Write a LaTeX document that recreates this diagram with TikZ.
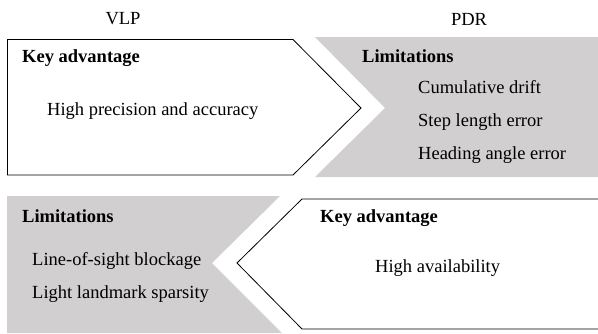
\documentclass[tikz,border=0pt]{standalone}
\usepackage{fontspec}
\setmainfont{Liberation Serif}
\usetikzlibrary{positioning}
\definecolor{limgray}{RGB}{209,207,208}

\begin{document}
\begin{tikzpicture}[x=1pt,y=-1pt,
    every node/.style={font=\fontsize{18.5}{22}\selectfont, inner sep=0pt},
    title/.style={anchor=base},
    head/.style={anchor=base west, font=\fontsize{18.5}{22}\selectfont\bfseries},
    item/.style={anchor=base west},
    panel/.style={draw=black, line width=0.8pt, fill=white},
    shade/.style={fill=limgray}]
\useasboundingbox (0,0) rectangle (598,333);

% top row: VLP advantage, PDR limitations
\draw[panel] (7.5,39.5) -- (293,39.5) -- (361,108) -- (293,175) -- (7.5,175) -- cycle;
\fill[shade] (315,37) -- (598,37) -- (598,177) -- (315,177) -- (385,108) -- cycle;

% bottom row: VLP limitations, PDR advantage
\fill[shade] (7,196) -- (280,196) -- (212,263) -- (282,333) -- (7,333) -- cycle;
\draw[panel] (598,199) -- (302,199) -- (237,263) -- (302,329) -- (598,329);

\node[title] (vlp) at (123,24) {VLP};
\node[title] (pdr) at (469,25) {PDR};

\node[head] (advvlp) at (22,62) {Key advantage};
\node[item] (prec) at (47,115) {High precision and accuracy};

\node[head] (limpdr) at (362,62) {Limitations};
\node[item] (drift) at (418,93) {Cumulative drift};
\node[item] (steplen) at (418,126) {Step length error};
\node[item] (heading) at (418,159) {Heading angle error};

\node[head] (limvlp) at (22,222) {Limitations};
\node[item] (los) at (32,265) {Line-of-sight blockage};
\node[item] (sparse) at (32,298) {Light landmark sparsity};

\node[head] (advpdr) at (320,222) {Key advantage};
\node[item] (avail) at (375,272) {High availability};
\end{tikzpicture}
\end{document}
